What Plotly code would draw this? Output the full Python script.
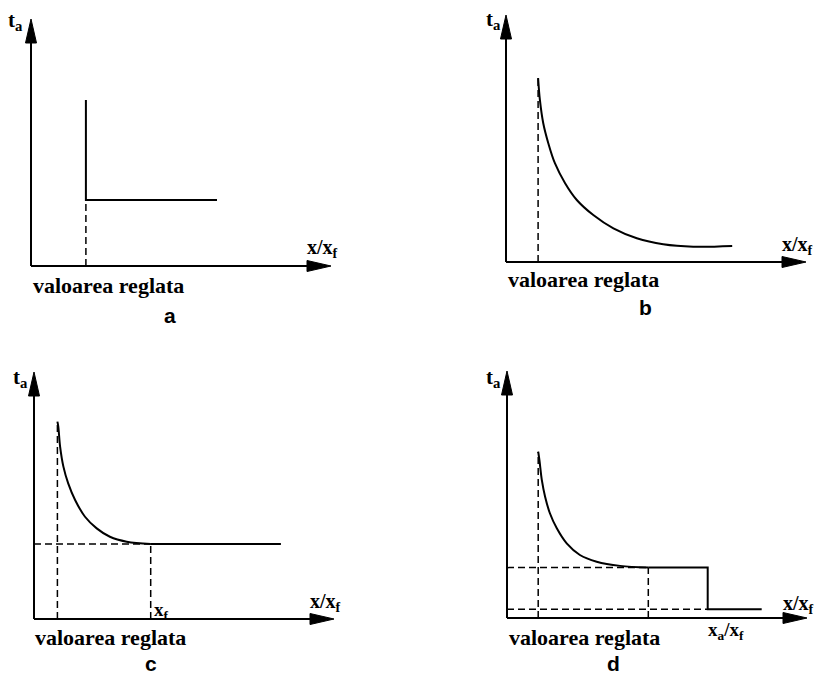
import plotly.graph_objects as go

# ---------------- data (normalised units: axis origin = 0, arrow tip = 10) ----------------
# panel a : step characteristic
a_x = [1.83, 1.83, 6.20]
a_y = [6.72, 2.67, 2.67]

# panel b : inverse (dependent) characteristic
b_x = [1.07, 1.13, 1.24, 1.41, 1.63, 1.97, 2.36, 2.91, 3.58, 4.36, 5.24, 6.24, 7.54]
b_y = [7.45, 6.56, 5.63, 4.81, 4.00, 3.19, 2.51, 1.90, 1.36, 0.96, 0.72, 0.62, 0.65]

# panel c : limited dependent characteristic
c_x = [0.78, 0.81, 0.87, 0.98, 1.14, 1.37, 1.70, 2.09, 2.53, 3.09, 3.89]
c_y = [7.99, 7.79, 6.98, 6.17, 5.49, 4.82, 4.14, 3.67, 3.33, 3.13, 3.04]
c_flat_end = 8.23

# panel d : limited dependent characteristic with instantaneous step
d_x = [1.04, 1.08, 1.16, 1.27, 1.43, 1.66, 1.99, 2.43, 2.99, 3.77, 4.71]
d_y = [6.73, 6.40, 5.59, 4.91, 4.24, 3.63, 3.02, 2.55, 2.28, 2.11, 2.04]
d_step_x = 6.69     # x_a / x_f
d_low = 0.35
d_end = 8.49

panel_letters = ["a", "b", "c", "d"]
set_label = "valoarea reglata"
y_title = "t<sub>a</sub>"
x_title = "x/x<sub>f</sub>"

# ---------------- geometry (pixels) ----------------
W, H = 818, 676
SX, SY = 30.0, 24.7          # pixels per unit
# quadrant boxes (x0, y0, x1, y1) in px and axis origin (ox, oy) in px
boxes = {
    1: ((0, 0, 409, 338), (31, 266)),
    2: ((409, 0, 818, 338), (506, 262)),
    3: ((0, 338, 409, 676), (34, 619)),
    4: ((409, 338, 818, 676), (507, 618)),
}

fig = go.Figure()
layout = dict(width=W, height=H, autosize=False,
              margin=dict(l=0, r=0, t=0, b=0),
              paper_bgcolor="white", plot_bgcolor="white",
              showlegend=False)

shapes = []
for k, ((x0, y0, x1, y1), (ox, oy)) in boxes.items():
    sfx = "" if k == 1 else str(k)
    layout["xaxis" + sfx] = dict(domain=[x0 / W, x1 / W],
                                 range=[(x0 - ox) / SX, (x1 - ox) / SX],
                                 visible=False, fixedrange=True,
                                 anchor="y" + sfx)
    layout["yaxis" + sfx] = dict(domain=[1 - y1 / H, 1 - y0 / H],
                                 range=[(oy - y1) / SY, (oy - y0) / SY],
                                 visible=False, fixedrange=True,
                                 anchor="x" + sfx)
    xr, yr = "x" + sfx, "y" + sfx
    alx = 24 / SX
    aly = 24 / SY
    hw_y = 5.5 / SY
    hw_x = 5.5 / SX
    shapes.append(dict(type="line", xref=xr, yref=yr, x0=0, y0=0, x1=10 - alx * 0.5, y1=0,
                       line=dict(color="black", width=2)))
    shapes.append(dict(type="line", xref=xr, yref=yr, x0=0, y0=0, x1=0, y1=10 - aly * 0.5,
                       line=dict(color="black", width=2)))
    shapes.append(dict(type="path", xref=xr, yref=yr,
                       path=f"M {10 - alx},{-hw_y} L 10,0 L {10 - alx},{hw_y} Z",
                       fillcolor="black", line=dict(color="black", width=1)))
    shapes.append(dict(type="path", xref=xr, yref=yr,
                       path=f"M {-hw_x},{10 - aly} L 0,10 L {hw_x},{10 - aly} Z",
                       fillcolor="black", line=dict(color="black", width=1)))

layout["shapes"] = shapes

solid = dict(color="black", width=2)
dashed = dict(color="black", width=1.5, dash="7px,4px")


def add(x, y, axis, line, shape="linear"):
    sfx = "" if axis == 1 else str(axis)
    ln = dict(line)
    if shape == "spline":
        ln["shape"] = "spline"
        ln["smoothing"] = 1.0
    fig.add_trace(go.Scatter(x=x, y=y, mode="lines", line=ln,
                             xaxis="x" + sfx, yaxis="y" + sfx,
                             hoverinfo="skip", cliponaxis=False))


# panel a
add(a_x, a_y, 1, solid)
add([a_x[0], a_x[0]], [0, a_y[1]], 1, dashed)

# panel b
add(b_x, b_y, 2, solid, "spline")
add([b_x[0], b_x[0]], [0, b_y[0]], 2, dashed)

# panel c
add(c_x, c_y, 3, solid, "spline")
add([c_x[-1], c_flat_end], [c_y[-1], c_y[-1]], 3, solid)
add([c_x[0], c_x[0]], [0, c_y[0]], 3, dashed)
add([0, c_x[-1]], [c_y[-1], c_y[-1]], 3, dashed)
add([c_x[-1], c_x[-1]], [0, c_y[-1]], 3, dashed)

# panel d
add(d_x, d_y, 4, solid, "spline")
add([d_x[-1], d_step_x, d_step_x, d_end], [d_y[-1], d_y[-1], d_low, d_low], 4, solid)
add([d_x[0], d_x[0]], [0, d_y[0]], 4, dashed)
add([0, d_x[-1]], [d_y[-1], d_y[-1]], 4, dashed)
add([d_x[-1], d_x[-1]], [0, d_y[-1]], 4, dashed)
add([0, d_step_x], [d_low, d_low], 4, dashed)

# ---------------- text ----------------
serif = dict(family="Times New Roman, Liberation Serif, serif", color="black")
sans = dict(family="Arial, Liberation Sans, sans-serif", color="black")


def label(text, px, py, font, size):
    f = dict(font)
    f["size"] = size
    return dict(text="<b>" + text + "</b>", x=px / W, y=1 - py / H, xref="paper", yref="paper",
                xanchor="center", yanchor="middle", showarrow=False, font=f)


ann = []
for px, py in [(15, 21), (494, 20), (20, 378), (493, 378)]:
    ann.append(label(y_title, px, py, serif, 21))
for px, py in [(322, 248), (797, 245), (325, 602), (798, 604)]:
    ann.append(label(x_title, px, py, serif, 20))
for px, py in [(108, 285), (583, 279), (111, 637), (584, 637)]:
    ann.append(label(set_label, px, py, serif, 22))
for t, (px, py) in zip(panel_letters, [(170, 316), (645, 307), (151, 663), (613, 663)]):
    ann.append(label(t, px, py, sans, 21))
ann.append(label("x<sub>f</sub>", 161, 611, serif, 19))
ann.append(label("x<sub>a</sub>/x<sub>f</sub>", 726, 631, serif, 19))
layout["annotations"] = ann

fig.update_layout(**layout)
fig.write_html("out.html", config={"displayModeBar": False, "staticPlot": True},
               post_script="document.body.style.margin='0';")
